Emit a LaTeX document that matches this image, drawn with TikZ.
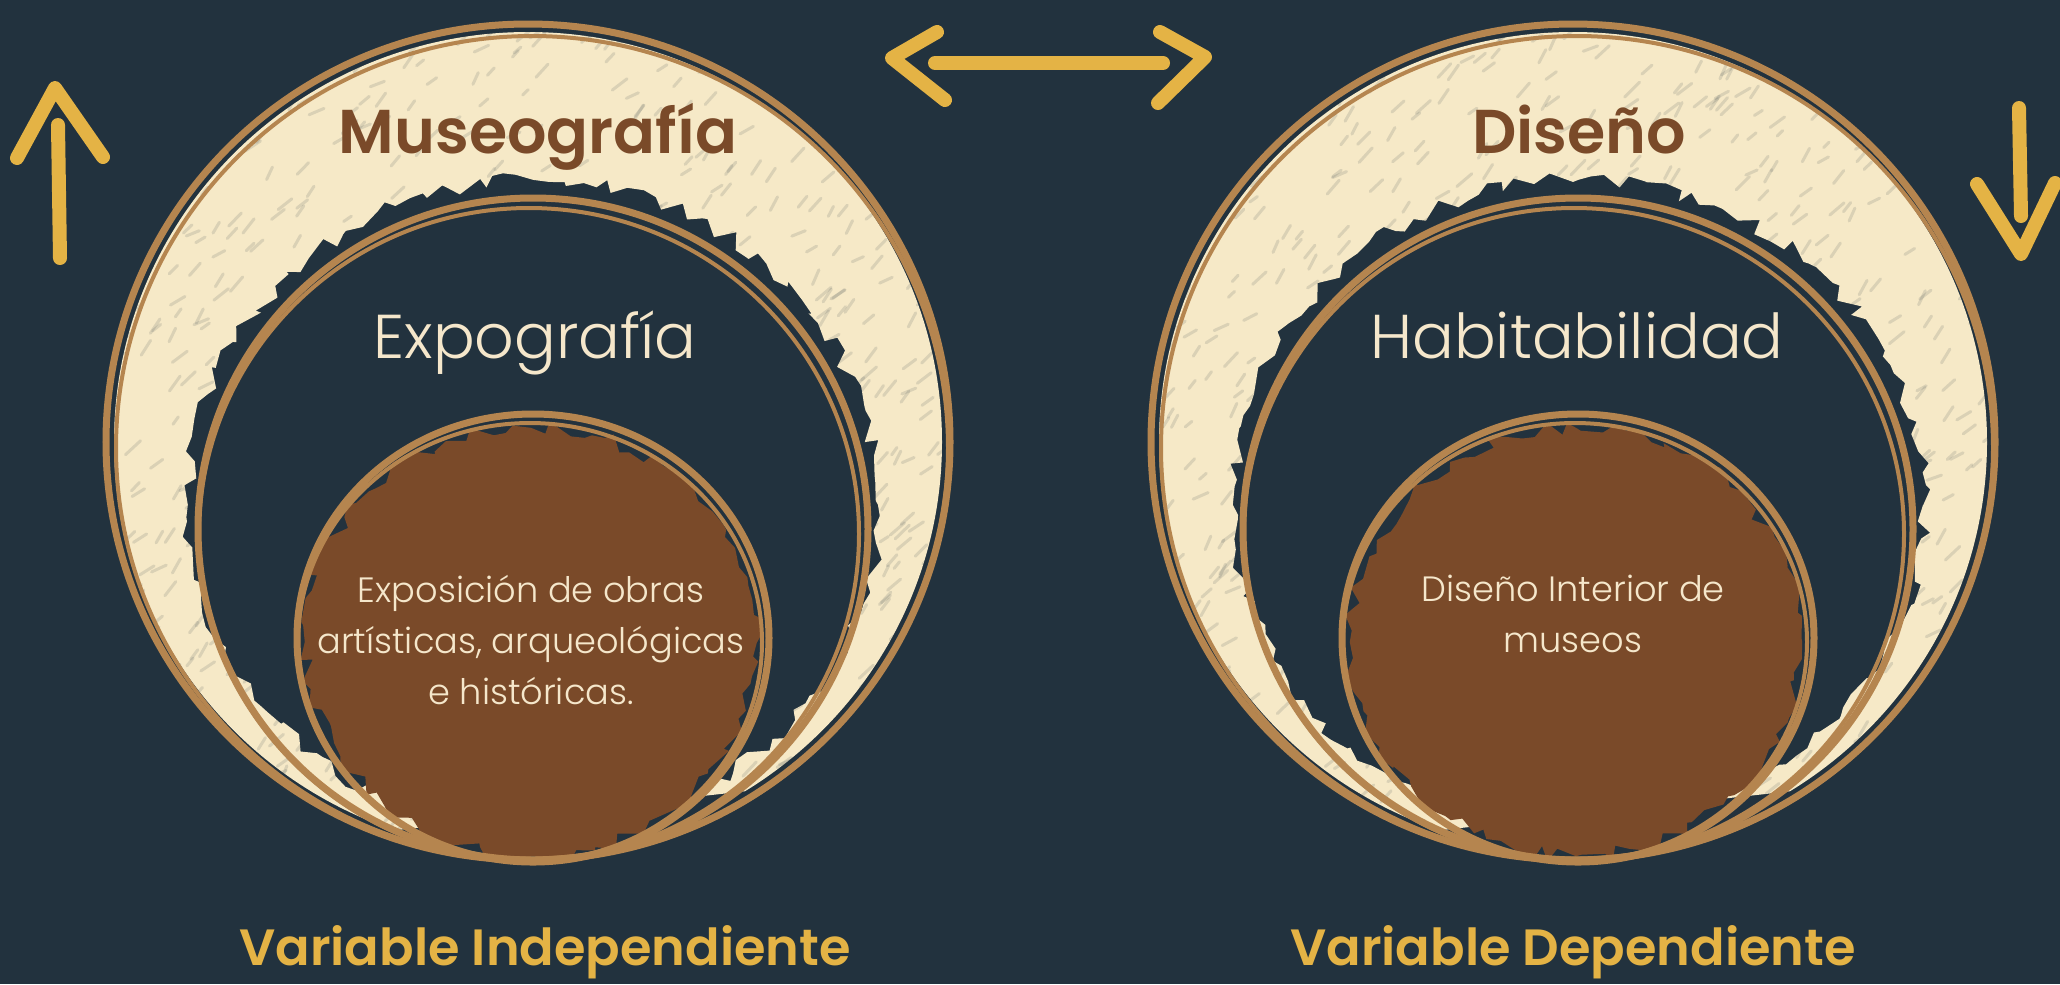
\documentclass[tikz,border=0pt]{standalone}
\usepackage{fontspec}
\newfontfamily\popsb{Poppins SemiBold}
\newfontfamily\popl{Poppins Light}
\usetikzlibrary{decorations.pathmorphing}
\definecolor{bg}{HTML}{22323E}
\definecolor{ring}{HTML}{B5854F}
\definecolor{chalk}{HTML}{F6E9C7}
\definecolor{earth}{HTML}{7A4A29}
\definecolor{gold}{HTML}{E4B345}
\definecolor{ink}{HTML}{F5E7CB}
\newcommand{\ringset}[1]{%
  \begin{scope}
    \clip (#1-500,-10) -- (#1+500,-10) -- (#1+500,740) -- (#1+318,780) -- (#1-238,842) -- (#1-500,890) -- cycle;
    \fill[chalk,even odd rule] (#1,442) ellipse[x radius=414,y radius=410]
      decorate[roughedge]{(#1+5,505) ellipse[x radius=345,y radius=325]};
    \foreach \k in {1,...,900}{
      \draw[bg,opacity=0.13,line width=0.3mm,line cap=round] (#1+rand*425,442+rand*418) -- ++(5+10*rnd,-5-10*rnd);
    }
  \end{scope}
  \fill[earth] decorate[roughedge]{(#1+3,642) ellipse[x radius=226,y radius=214]};
  \draw[ringline] (#1,442) ellipse[x radius=422,y radius=418];
  \draw[ringthin] (#1+4,448) ellipse[x radius=416,y radius=412];
  \draw[ringline] (#1+5,529) ellipse[x radius=335,y radius=331];
  \draw[ringthin] (#1+1,534) ellipse[x radius=330,y radius=326];
  \draw[ringline] (#1+5,638) ellipse[x radius=236,y radius=224];
  \draw[ringthin] (#1+2,642) ellipse[x radius=232,y radius=219];
}
\begin{document}
\begin{tikzpicture}[x=0.01cm,y=-0.01cm,
  ringline/.style={draw=ring,line width=0.7mm},
  ringthin/.style={draw=ring,line width=0.4mm},
  chalkarrow/.style={draw=gold,line width=1.4mm,line cap=round,line join=round},
  roughedge/.style={decoration={random steps,segment length=1.2mm,amplitude=0.8mm}},
  titletext/.style={font=\popsb\fontsize{17.6}{20}\selectfont,text=earth,inner sep=0pt,anchor=base},
  subtext/.style={font=\popl\fontsize{17.6}{20}\selectfont,text=ink,inner sep=0pt,anchor=base},
  bodytext/.style={font=\popl\fontsize{10}{14.5}\selectfont,text=ink,inner sep=0pt,align=center},
  labeltext/.style={font=\popsb\fontsize{14.5}{17}\selectfont,text=gold,inner sep=0pt,anchor=base},
]
\pgfmathsetseed{7}
\useasboundingbox (0,0) rectangle (2060,984);
\fill[bg] (0,0) rectangle (2060,984);

\ringset{528}
\ringset{1573}

% texts
\node[titletext] (museo) at (538,153) {Museografía};
\node[subtext] (expo) at (535,358) {Expografía};
\node[bodytext] (expos) at (531,640) {Exposición de obras\\artísticas, arqueológicas\\e históricas.};
\node[labeltext] (vind) at (545,965) {Variable Independiente};

\node[titletext] (dis) at (1579,153) {Diseño};
\node[subtext] (habit) at (1577,358) {Habitabilidad};
\node[bodytext] (dint) at (1573,614) {Diseño Interior de\\museos};
\node[labeltext] (vdep) at (1573,965) {Variable Dependiente};

% up arrow
\coordinate (ub) at (60,258);
\coordinate (ut) at (58,125);
\coordinate (ul) at (17,158);
\coordinate (ua) at (55,88);
\coordinate (ur) at (103,157);
\draw[chalkarrow] (ub) -- (ut);
\draw[chalkarrow] (ul) -- (ua) -- (ur);

% double arrow
\coordinate (dl) at (935,63);
\coordinate (dr) at (1163,63);
\coordinate (l1) at (937,32);
\coordinate (la) at (892,58);
\coordinate (l2) at (945,100);
\coordinate (r1) at (1160,32);
\coordinate (ra) at (1205,57);
\coordinate (r2) at (1158,103);
\draw[chalkarrow] (dl) -- (dr);
\draw[chalkarrow] (l1) -- (la) -- (l2);
\draw[chalkarrow] (r1) -- (ra) -- (r2);

% down arrow
\coordinate (dt) at (2019,108);
\coordinate (db) at (2021,216);
\coordinate (dhl) at (1977,184);
\coordinate (dha) at (2021,254);
\coordinate (dhr) at (2055,183);
\draw[chalkarrow] (dt) -- (db);
\draw[chalkarrow] (dhl) -- (dha) -- (dhr);
\end{tikzpicture}
\end{document}
